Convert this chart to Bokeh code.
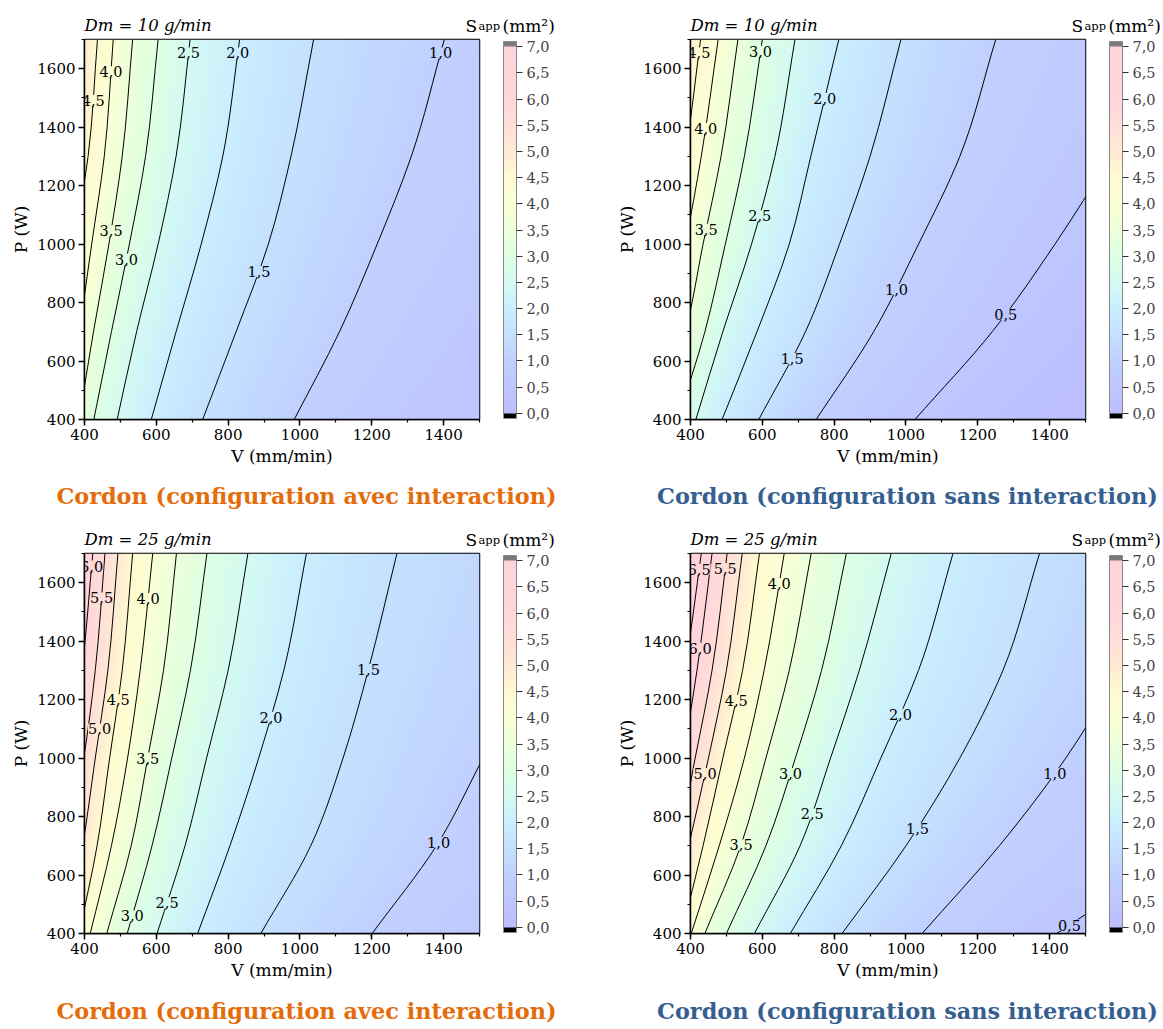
import numpy as np
from bokeh.plotting import figure
from bokeh.layouts import column, row
from bokeh.models import (LinearColorMapper, ColorBar, FixedTicker, CustomJSTickFormatter,
                          SingleIntervalTicker, ColumnDataSource, Range1d)
from bokeh.embed import file_html
from bokeh.resources import INLINE
from bokeh.core.properties import value

FONT = "DejaVu Serif"

# ---------------- data ----------------
# P rows (W) at which each contour's V position (mm/min) was read
P_ROWS = [400, 700, 1000, 1300, 1700]

# Panel 1 : Dm = 10 g/min, avec interaction
p1_levels = [0.5, 1.0, 1.5, 2.0, 2.5, 3.0, 3.5, 4.0, 4.5, 5.0]
p1_vrows = [[1400, 1600, 1800, 1950, 2100],
            [984, 1110, 1215, 1310, 1402],
            [729, 822, 912, 975, 1038],
            [586, 655, 725, 785, 832],
            [491, 545, 605, 655, 694],
            [426, 475, 525, 570, 605],
            [385, 425, 468, 505, 534],
            [345, 385, 420, 455, 480],
            [300, 335, 370, 410, 436],
            [255, 290, 325, 360, 395]]
p1_hidden = [0.5, 5.0]
p1_lab_levels = [4.0, 4.5, 2.5, 2.0, 1.0, 3.5, 3.0, 1.5]
p1_lab_p = [1590, 1492, 1654, 1654, 1654, 1046, 949, 906]

# Panel 2 : Dm = 10 g/min, sans interaction
p2_levels = [0.0, 0.5, 1.0, 1.5, 2.0, 2.5, 3.0, 3.5, 4.0, 4.5, 5.0]
p2_vrows = [[1450, 1700, 1900, 2100, 2300],
            [1025, 1240, 1415, 1570, 1760],
            [750, 910, 1035, 1150, 1250],
            [590, 720, 815, 900, 986],
            [488, 585, 675, 735, 813],
            [415, 490, 570, 635, 691],
            [365, 440, 497, 550, 600],
            [300, 385, 435, 485, 532],
            [260, 330, 385, 430, 477],
            [220, 290, 340, 385, 428],
            [180, 250, 300, 340, 385]]
p2_hidden = [0.0, 5.0]
p2_lab_levels = [4.5, 3.0, 2.0, 4.0, 3.5, 2.5, 1.0, 0.5, 1.5]
p2_lab_p = [1655, 1660, 1498, 1396, 1051, 1097, 846, 760, 609]

# Panel 3 : Dm = 25 g/min, avec interaction
p3_levels = [0.5, 1.0, 1.5, 2.0, 2.5, 3.0, 3.5, 4.0, 4.5, 5.0, 5.5, 6.0, 6.5]
p3_vrows = [[1700, 1900, 2100, 2250, 2400],
            [1201, 1380, 1510, 1640, 1790],
            [891, 1030, 1120, 1190, 1270],
            [715, 805, 885, 955, 1018],
            [602, 680, 740, 800, 855],
            [519, 588, 643, 695, 741],
            [462, 530, 576, 620, 656],
            [416, 475, 520, 555, 590],
            [385, 435, 470, 505, 534],
            [350, 395, 430, 465, 493],
            [310, 355, 398, 430, 457],
            [270, 320, 360, 393, 423],
            [230, 285, 325, 358, 390]]
p3_hidden = [0.5, 6.5]
p3_lab_levels = [6.0, 5.5, 4.0, 1.5, 2.0, 4.5, 5.0, 3.5, 1.0, 3.0, 2.5]
p3_lab_p = [1657, 1548, 1546, 1303, 1140, 1200, 1100, 1000, 712, 460, 505]

# Panel 4 : Dm = 25 g/min, sans interaction
p4_levels = [0.0, 0.5, 1.0, 1.5, 2.0, 2.5, 3.0, 3.5, 4.0, 4.5, 5.0, 5.5, 6.0, 6.5, 7.0]
p4_vrows = [[2000, 2400, 2700, 3000, 3300],
            [1420, 1780, 2050, 2250, 2450],
            [1045, 1260, 1445, 1595, 1760],
            [822, 1000, 1150, 1270, 1372],
            [678, 820, 930, 1035, 1131],
            [578, 705, 790, 870, 959],
            [500, 610, 692, 765, 834],
            [440, 540, 610, 675, 736],
            [402, 480, 550, 605, 661],
            [375, 435, 490, 545, 592],
            [340, 395, 450, 500, 544],
            [300, 365, 413, 460, 502],
            [260, 328, 378, 418, 460],
            [220, 290, 345, 385, 430],
            [180, 250, 310, 355, 400]]
p4_hidden = [0.0, 7.0]
p4_lab_levels = [6.5, 5.5, 4.0, 6.0, 4.5, 2.0, 5.0, 3.0, 1.0, 2.5, 1.5, 3.5, 0.5]
p4_lab_p = [1646, 1649, 1597, 1376, 1198, 1150, 947, 947, 947, 809, 760, 703, 429]

dm_texts = ["Dm = 10 g/min", "Dm = 10 g/min", "Dm = 25 g/min", "Dm = 25 g/min"]
titles = ["Cordon (configuration avec interaction)", "Cordon (configuration sans interaction)",
          "Cordon (configuration avec interaction)", "Cordon (configuration sans interaction)"]
title_colors = ["#E46C0A", "#365F91", "#E46C0A", "#365F91"]
cbar_ticks = [0.0, 0.5, 1.0, 1.5, 2.0, 2.5, 3.0, 3.5, 4.0, 4.5, 5.0, 5.5, 6.0, 6.5, 7.0]

# colour scale stops (value -> rgb)
STOP_V = [0.0, 0.5, 1.0, 1.5, 2.0, 2.5, 3.0, 3.5, 4.0, 4.5, 5.0, 5.5, 6.0, 7.0]
STOP_C = [(189, 190, 255), (190, 198, 255), (192, 208, 255), (196, 224, 255), (202, 238, 255),
          (212, 250, 242), (222, 255, 226), (236, 255, 218), (250, 255, 212), (255, 250, 208),
          (255, 234, 212), (255, 222, 216), (255, 214, 218), (255, 210, 218)]


def rgb_at(v):
    cs = np.array(STOP_C, float)
    r, g, b = (int(round(np.interp(v, STOP_V, cs[:, k]))) for k in range(3))
    return "#%02x%02x%02x" % (r, g, b)


def make_palette(n=720):
    pal = []
    for i in range(n):
        v = -0.1 + (i + 0.5) * 7.2 / n
        if v < 0:
            pal.append("#000000")
        elif v > 7:
            pal.append("#7a7a7a")
        else:
            pal.append(rgb_at(v))
    return pal


PALETTE = make_palette()


# smooth (cubic Hermite) path through the read points, drawn with bezier glyphs
def slopes(P, V):
    P = np.asarray(P, float)
    V = np.asarray(V, float)
    h = np.diff(P)
    d = np.diff(V) / h
    m = np.empty_like(V)
    m[0], m[-1] = d[0], d[-1]
    for i in range(1, len(V) - 1):
        m[i] = (d[i - 1] * h[i] + d[i] * h[i - 1]) / (h[i - 1] + h[i])
    return m


def hermite(P, V, pe):
    P = np.asarray(P, float)
    V = np.asarray(V, float)
    pe = np.atleast_1d(np.asarray(pe, float))
    m = slopes(P, V)
    h = np.diff(P)
    i = np.clip(np.searchsorted(P, pe) - 1, 0, len(P) - 2)
    t = (pe - P[i]) / h[i]
    h00 = 2 * t ** 3 - 3 * t ** 2 + 1
    h10 = t ** 3 - 2 * t ** 2 + t
    h01 = -2 * t ** 3 + 3 * t ** 2
    h11 = t ** 3 - t ** 2
    return h00 * V[i] + h10 * h[i] * m[i] + h01 * V[i + 1] + h11 * h[i] * m[i + 1]


def build_field(levels, vrows, nx=276, ny=326):
    V = np.linspace(400, 1500, nx)
    P = np.linspace(400, 1700, ny)
    lv = np.array(levels, float)
    pos = np.array([hermite(P_ROWS, r, P) for r in vrows])  # (nlev, ny)
    Z = np.empty((ny, nx))
    for j in range(ny):
        order = np.argsort(pos[:, j])
        Z[j] = np.interp(V, pos[order, j], lv[order])
    return Z


def text_fig(width, height):
    f = figure(width=width, height=height, x_range=Range1d(0, width), y_range=Range1d(0, height),
               x_axis_type=None, y_axis_type=None, toolbar_location=None, output_backend="svg",
               min_border=0, outline_line_color=None, background_fill_color="white",
               border_fill_color="white")
    return f


def make_header(idx, width, height, base):
    f = text_fig(width, height)
    f.text(x=[84], y=[base], text=[dm_texts[idx]], text_font=value(FONT), text_font_style="italic",
           text_font_size="16.5px", text_baseline="alphabetic", text_align="left")
    f.text(x=[465], y=[base], text=["S"], text_font=value(FONT), text_font_size="17px",
           text_baseline="alphabetic", text_align="left")
    f.text(x=[478], y=[base], text=["app"], text_font=value(FONT), text_font_size="11.5px",
           text_baseline="alphabetic", text_align="left")
    f.text(x=[502], y=[base], text=["(mm²)"], text_font=value(FONT), text_font_size="17px",
           text_baseline="alphabetic", text_align="left")
    return f


def make_caption(idx, width, height, cx, cy):
    f = text_fig(width, height)
    f.text(x=[cx], y=[cy], text=[titles[idx]], text_font=value(FONT), text_font_style="bold",
           text_font_size="22.4px", text_color=title_colors[idx], text_align="center",
           text_baseline="middle")
    return f


def make_panel(levels, vrows, hidden, lab_levels, lab_p, width, mbr):
    mapper = LinearColorMapper(palette=PALETTE, low=-0.1, high=7.1)
    p = figure(width=width, height=437, x_range=Range1d(400, 1500), y_range=Range1d(400, 1700),
               output_backend="svg", toolbar_location=None,
               min_border_left=84, min_border_right=mbr, min_border_top=2, min_border_bottom=55,
               background_fill_color="white", border_fill_color="white")
    p.grid.visible = False
    p.outline_line_color = "black"
    p.outline_line_width = 1.5

    Z = build_field(levels, vrows)
    p.image(image=[Z], x=400, y=400, dw=1100, dh=1300, color_mapper=mapper)

    seg = dict(x0=[], y0=[], x1=[], y1=[], cx0=[], cy0=[], cx1=[], cy1=[])
    for lev, r in zip(levels, vrows):
        if lev in hidden:
            continue
        m = slopes(P_ROWS, r)
        for i in range(len(P_ROWS) - 1):
            h = P_ROWS[i + 1] - P_ROWS[i]
            seg["x0"].append(r[i]); seg["y0"].append(P_ROWS[i])
            seg["x1"].append(r[i + 1]); seg["y1"].append(P_ROWS[i + 1])
            seg["cx0"].append(r[i] + m[i] * h / 3); seg["cy0"].append(P_ROWS[i] + h / 3)
            seg["cx1"].append(r[i + 1] - m[i + 1] * h / 3); seg["cy1"].append(P_ROWS[i + 1] - h / 3)
    p.bezier(x0="x0", y0="y0", x1="x1", y1="y1", cx0="cx0", cy0="cy0", cx1="cx1", cy1="cy1",
             source=ColumnDataSource(seg), line_color="black", line_width=1)

    # contour labels placed on their lines
    lx, ly, lt, lb = [], [], [], []
    for lev, pp in zip(lab_levels, lab_p):
        r = vrows[levels.index(lev)]
        lx.append(float(hermite(P_ROWS, r, pp)[0]))
        ly.append(pp)
        lt.append(("%.1f" % lev).replace(".", ","))
        lb.append(rgb_at(lev))
    src = ColumnDataSource(dict(x=lx, y=ly, t=lt, bg=lb))
    p.text(x="x", y="y", text="t", source=src, text_font=value(FONT), text_font_size="14.5px",
           text_align="center", text_baseline="middle", text_color="black",
           background_fill_color="bg")

    # axes
    p.xaxis.ticker = SingleIntervalTicker(interval=200, num_minor_ticks=2)
    p.yaxis.ticker = SingleIntervalTicker(interval=200, num_minor_ticks=2)
    p.xaxis.axis_label = "V (mm/min)"
    p.yaxis.axis_label = "P (W)"
    p.axis.axis_label_text_font = FONT
    p.axis.axis_label_text_font_style = "normal"
    p.axis.axis_label_text_font_size = "17px"
    p.axis.axis_label_standoff = 3
    p.axis.major_label_text_font = FONT
    p.axis.major_label_text_font_size = "15px"
    p.axis.major_label_standoff = 3
    p.axis.axis_line_width = 1.5
    p.axis.major_tick_line_width = 1.5
    p.axis.major_tick_in = 0
    p.axis.major_tick_out = 6
    p.axis.minor_tick_in = 0
    p.axis.minor_tick_out = 3
    p.axis.minor_tick_line_width = 1.2
    p.axis.major_label_text_color = "black"
    p.axis.axis_label_text_color = "black"

    # colour bar
    cb = ColorBar(color_mapper=mapper, ticker=FixedTicker(ticks=cbar_ticks),
                  formatter=CustomJSTickFormatter(code="return tick.toFixed(1).replace('.', ',');"),
                  width=13, height=377, location=(419, 1), padding=0, margin=0,
                  major_tick_in=0, major_tick_out=6, major_tick_line_color="#333333",
                  minor_tick_line_color=None, label_standoff=4,
                  major_label_text_font=FONT, major_label_text_font_size="14.5px",
                  bar_line_color="#8a8a8a", background_fill_alpha=0, border_line_color=None)
    p.add_layout(cb)
    return p


W1, W2 = 606, 557
# row 1: header 0-37, frame 39-419, caption 474-522
h1 = make_header(0, W1, 37, 12)
h2 = make_header(1, W2, 37, 12)
f1 = make_panel(p1_levels, p1_vrows, p1_hidden, p1_lab_levels, p1_lab_p, W1, W1 - 84 - 395)
f2 = make_panel(p2_levels, p2_vrows, p2_hidden, p2_lab_levels, p2_lab_p, W2, W2 - 84 - 395)
c1 = make_caption(0, W1, 48, 306, 27)
c2 = make_caption(1, W2, 48, 301, 27)
# row 2: header 522-551, frame 553-933, caption 988-1028
h3 = make_header(2, W1, 29, 12)
h4 = make_header(3, W2, 29, 12)
f3 = make_panel(p3_levels, p3_vrows, p3_hidden, p3_lab_levels, p3_lab_p, W1, W1 - 84 - 395)
f4 = make_panel(p4_levels, p4_vrows, p4_hidden, p4_lab_levels, p4_lab_p, W2, W2 - 84 - 395)
c3 = make_caption(2, W1, 40, 306, 18)
c4 = make_caption(3, W2, 40, 301, 18)

layout = column(row(h1, h2), row(f1, f2), row(c1, c2),
                row(h3, h4), row(f3, f4), row(c3, c4))
open("out.html", "w").write(file_html(layout, INLINE))
